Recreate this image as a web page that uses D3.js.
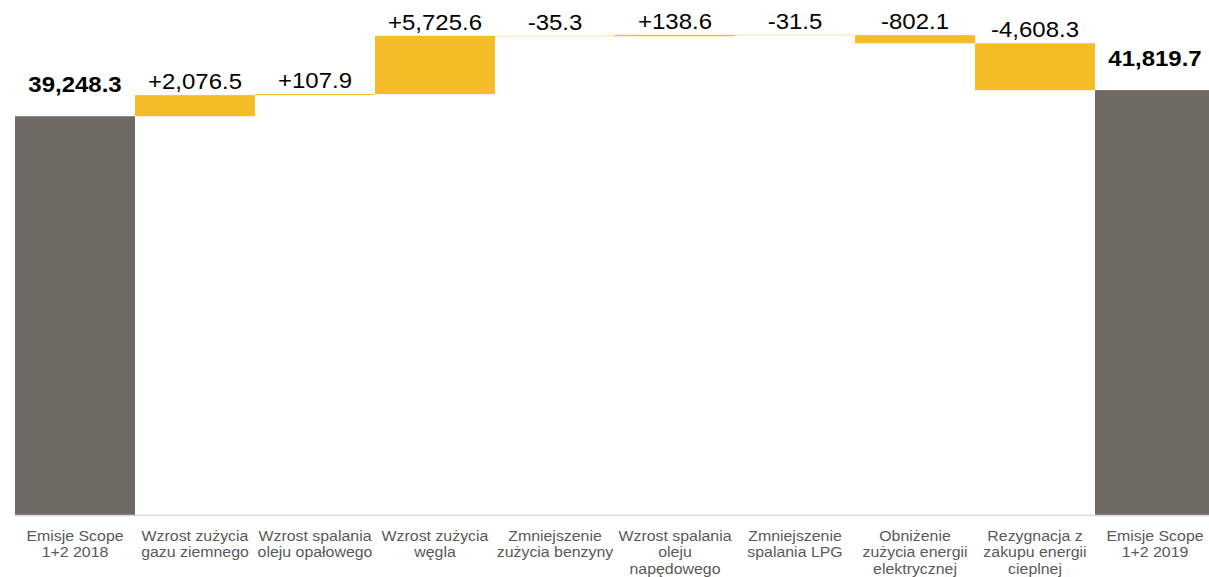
<!DOCTYPE html>
<html>
<head>
<meta charset="utf-8">
<script src="https://cdn.jsdelivr.net/npm/d3@7"></script>
<style>
  body { margin: 0; background: #fff; }
  svg { display: block; font-family: Arial, 'Liberation Sans', sans-serif; }
</style>
</head>
<body>
<svg id="chart" width="1209" height="577"></svg>
<script>
const categories = [
  ['Emisje Scope', '1+2 2018'],
  ['Wzrost zużycia', 'gazu ziemnego'],
  ['Wzrost spalania', 'oleju opałowego'],
  ['Wzrost zużycia', 'węgla'],
  ['Zmniejszenie', 'zużycia benzyny'],
  ['Wzrost spalania', 'oleju', 'napędowego'],
  ['Zmniejszenie', 'spalania LPG'],
  ['Obniżenie', 'zużycia energii', 'elektrycznej'],
  ['Rezygnacja z', 'zakupu energii', 'cieplnej'],
  ['Emisje Scope', '1+2 2019']
];
const startTotal = 39248.3;
const changes = [2076.5, 107.9, 5725.6, -35.3, 138.6, -31.5, -802.1, -4608.3];
const endTotal = 41819.7;

const width = 1209, height = 577;
const svg = d3.select('#chart');

// build waterfall rows
const rows = [];
rows.push({ i: 0, lo: 0, hi: startTotal, value: startTotal, total: true });
let run = startTotal;
changes.forEach((c, k) => {
  const next = run + c;
  rows.push({ i: k + 1, lo: Math.min(run, next), hi: Math.max(run, next), value: c, total: false });
  run = next;
});
rows.push({ i: 9, lo: 0, hi: endTotal, value: endTotal, total: true });

const x = d3.scaleBand()
  .domain(d3.range(categories.length))
  .range([15, 1215])
  .padding(0);

const y = d3.scaleLinear()
  .domain([0, 50000])
  .range([515, 7]);

// plain hyphen instead of unicode minus
const locale = d3.formatLocale({ decimal: '.', thousands: ',', grouping: [3], currency: ['', ''], minus: '-' });
const fmt = locale.format(',.1f');

svg.selectAll('rect.bar')
  .data(rows)
  .enter()
  .append('rect')
  .attr('class', 'bar')
  .attr('x', d => x(d.i))
  .attr('width', x.bandwidth())
  .attr('y', d => y(d.hi))
  .attr('height', d => Math.max(y(d.lo) - y(d.hi), 0.4))
  .attr('fill', d => d.total ? '#6e6a63' : '#f4bc27');

// baseline
svg.append('line')
  .attr('x1', 15).attr('x2', width)
  .attr('y1', y(0) + 0.5).attr('y2', y(0) + 0.5)
  .attr('stroke', '#d9d9d9')
  .attr('stroke-width', 1.5);

// value labels (slightly stretched like the original)
svg.selectAll('text.val')
  .data(rows)
  .enter()
  .append('text')
  .attr('class', 'val')
  .attr('transform', d => `translate(${x(d.i) + x.bandwidth() / 2},${y(d.hi) - (d.total ? 24 : 6)}) scale(1.09,1)`)
  .attr('text-anchor', 'middle')
  .style('font-size', '22px')
  .style('font-weight', d => d.total ? 'bold' : 'normal')
  .style('fill', '#000')
  .text(d => d.total ? fmt(d.value) : (d.value > 0 ? '+' : '') + fmt(d.value));

// category labels
const cat = svg.selectAll('text.cat')
  .data(categories)
  .enter()
  .append('text')
  .attr('class', 'cat')
  .attr('text-anchor', 'middle')
  .attr('transform', (d, i) => `translate(${x(i) + x.bandwidth() / 2},541) scale(1.06,1)`)
  .style('font-size', '15px')
  .style('fill', '#595959');

cat.selectAll('tspan')
  .data(d => d)
  .enter()
  .append('tspan')
  .attr('x', 0)
  .attr('dy', (d, i) => i === 0 ? 0 : 16.5)
  .text(d => d);
</script>
</body>
</html>
